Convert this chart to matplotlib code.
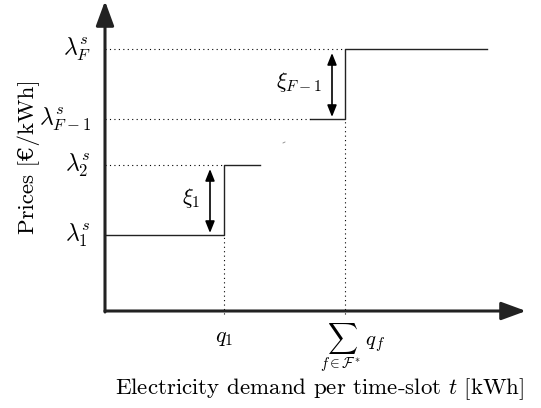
import matplotlib.pyplot as plt

plt.rcParams['font.family'] = ['cmr10', 'DejaVu Serif']
plt.rcParams['mathtext.fontset'] = 'cm'
plt.rcParams['axes.unicode_minus'] = False

# step data (arbitrary units, axes origin at 0,0)
prices = [76, 146, 192, 262]          # lambda_1, lambda_2, lambda_{F-1}, lambda_F
price_labels = [r'$\lambda_1^s$', r'$\lambda_2^s$', r'$\lambda_{F-1}^s$', r'$\lambda_F^s$']
q_marks = [119, 240]                  # q_1, sum q_f
q_labels = [r'$q_1$', r'$\sum_{f\in\mathcal{F}^*}\, q_f$']
seg_lo = [0, 155, 205]                # start of low segment for each step
seg_hi_end = [155, 382]               # end of upper segments
xi_labels = [r'$\xi_1$', r'$\xi_{F-1}$']
xi_x = [105, 227]

fig = plt.figure(figsize=(5.41, 4.08), dpi=100)
ax = fig.add_axes([0, 0, 1, 1])
ax.set_xlim(-105, 436)
ax.set_ylim(-97, 311)
ax.axis('off')

# axes with arrows
axis_arrow = dict(arrowstyle='-|>,head_length=1.5,head_width=0.55', lw=2.2, color='#222222',
                  shrinkA=0, shrinkB=0)
ax.annotate('', xy=(421, 0), xytext=(0, 0), arrowprops=axis_arrow)
ax.annotate('', xy=(0, 310), xytext=(0, -1), arrowprops=axis_arrow)

# steps
ax.plot([0, q_marks[0], q_marks[0], seg_hi_end[0]], [prices[0], prices[0], prices[1], prices[1]],
        color='#222222', lw=1)
ax.plot([seg_lo[2], q_marks[1], q_marks[1], seg_hi_end[1]], [prices[2], prices[2], prices[3], prices[3]],
        color='#222222', lw=1)
ax.plot([178, 180], [168, 169], color='#888888', lw=0.6)

# dotted guides
dot = dict(ls=(0, (1, 3)), color='black', lw=0.8)
ax.plot([0, q_marks[1]], [prices[3]] * 2, **dot)
ax.plot([0, seg_lo[2]], [prices[2]] * 2, **dot)
ax.plot([0, q_marks[0]], [prices[1]] * 2, **dot)
ax.plot([q_marks[0]] * 2, [-3, prices[0]], **dot)
ax.plot([q_marks[1]] * 2, [-3, prices[2]], **dot)

# price labels
for p, lab in zip(prices, price_labels):
    ax.text(-14, p, lab, ha='right', va='center', fontsize=17)

# quantity labels
ax.text(q_marks[0], -27, q_labels[0], ha='center', va='center', fontsize=16)
ax.text(q_marks[1] + 8, -37, q_labels[1], ha='center', va='center', fontsize=15)

# double arrows for the jumps
for i, (xl, xx) in enumerate(zip(xi_labels, xi_x)):
    lo, hi = prices[2 * i], prices[2 * i + 1]
    ax.annotate('', xy=(xx, hi - 4), xytext=(xx, lo + 2),
                arrowprops=dict(arrowstyle='<|-|>,head_length=0.7,head_width=0.28', lw=1.2,
                                color='black', shrinkA=0, shrinkB=0))
    ax.text(xx - 10, (lo + hi) / 2 + 2, xl, ha='right', va='center', fontsize=16)

ax.text(215, -78, 'Electricity demand per time-slot $t$ [kWh]', ha='center', va='center', fontsize=16.5)
ax.text(-76, 154, 'Prices [€/kWh]', ha='center', va='center', rotation=90, fontsize=16.5)

fig.savefig('out.png', dpi=100)
